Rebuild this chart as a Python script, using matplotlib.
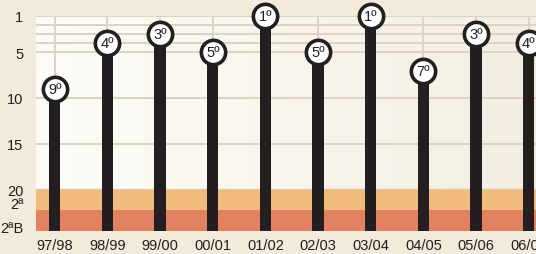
import numpy as np
import matplotlib
matplotlib.use("Agg")
import matplotlib.pyplot as plt

# Season-by-season league position
seasons = ["97/98", "98/99", "99/00", "00/01", "01/02",
           "02/03", "03/04", "04/05", "05/06", "06/07"]
positions = [9, 4, 3, 5, 1, 5, 1, 7, 3, 4]

rank_ticks = [1, 5, 10, 15, 20]
grid_ranks = [1, 2, 3, 4, 5, 10, 15]
band_2a = (20, 22.3)
band_2b = (22.3, 24.6)

BG = "#f2eadb"
GRID = "#dcd3c2"
BAR = "#231f20"
ORANGE = "#f0bb7b"
RED = "#e38163"

plt.rcParams["font.family"] = ["Liberation Sans", "DejaVu Sans"]

fig = plt.figure(figsize=(5.36, 2.55), dpi=100, facecolor=BG)
ax = fig.add_axes([36 / 536, 1 - 232 / 255, 1 - 36 / 536, (232 - 17) / 255])

x = np.arange(len(seasons))
ax.set_xlim(-0.355, 9.138)
ax.set_ylim(band_2b[1], 1)

# light gradient plot background
grad = np.linspace(0, 1, 256).reshape(1, -1)
cmap = matplotlib.colors.LinearSegmentedColormap.from_list("bg", ["#fdfcf8", "#f4eee2"])
ax.imshow(grad, cmap=cmap, aspect="auto", extent=[-0.355, 9.138, band_2a[0], 1], zorder=0)

ax.axhspan(*band_2a, color=ORANGE, lw=0, zorder=1)
ax.axhspan(*band_2b, color=RED, lw=0, zorder=1)
ax.axhline(band_2a[0], color="#d8c9b0", lw=1, zorder=1.5)

for r in grid_ranks:
    ax.axhline(r, color=GRID, lw=1.4, zorder=1.2)
for xi in x:
    ax.plot([xi, xi], [1, band_2a[0]], color=GRID, lw=1.4, zorder=1.2)

bottom = band_2b[1]
ax.bar(x, [p - bottom for p in positions], bottom=bottom, width=0.215,
       color=BAR, zorder=2)

ax.plot(x, positions, "o", ms=17.5, mfc="white", mec=BAR, mew=2.6,
        zorder=3, clip_on=False)
for xi, p in zip(x, positions):
    ax.text(xi, p, f"{p}º", ha="center", va="center", fontsize=10.5,
            color=BAR, zorder=4, clip_on=False)

ax.set_xticks(x)
ax.set_xticklabels(seasons, fontsize=10.5, color="#231f20")
ax.set_yticks(rank_ticks + [21.5, 24.1])
ax.set_yticklabels([str(r) for r in rank_ticks] + ["2ª", "2ªB"],
                   fontsize=10.5, color="#231f20")
ax.tick_params(length=0)
ax.tick_params(axis="y", pad=9)
ax.tick_params(axis="x", pad=5)
for s in ax.spines.values():
    s.set_visible(False)

fig.savefig("out.png", dpi=100, facecolor=BG)
